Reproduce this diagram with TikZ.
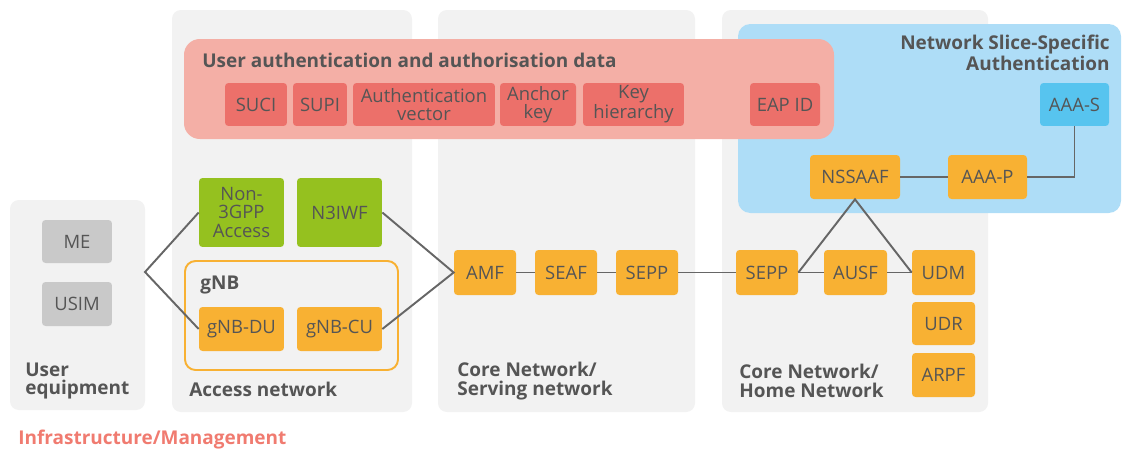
\documentclass[tikz,border=0pt]{standalone}
\usepackage{fontspec}
\setmainfont{Open Sans}
\usepackage{tikz}
\usetikzlibrary{positioning, fit, calc}
\definecolor{panelgray}{HTML}{F2F2F2}
\definecolor{authpink}{HTML}{F4AFA6}
\definecolor{datared}{HTML}{EC706A}
\definecolor{nssablue}{HTML}{AEDDF7}
\definecolor{aaablue}{HTML}{57C4EF}
\definecolor{nforange}{HTML}{F8B133}
\definecolor{accgreen}{HTML}{95C11F}
\definecolor{uegray}{HTML}{C9C9C9}
\definecolor{txtgray}{HTML}{555555}
\definecolor{linegray}{HTML}{666666}
\definecolor{infrared}{HTML}{F07B70}
\newcommand{\nffont}{\fontsize{10.5}{10.3}\selectfont}

\begin{document}
\begin{tikzpicture}[x=0.02cm, y=-0.02cm,
    panel/.style={fill=panelgray, rounded corners=5pt, inner sep=0pt},
    nf/.style={rectangle, rounded corners=2pt, fill=nforange, text=txtgray,
               minimum width=1.24cm, minimum height=0.88cm, align=center,
               inner sep=1pt, font=\nffont},
    datum/.style={nf, fill=datared, minimum height=0.86cm},
    title/.style={font=\bfseries\fontsize{10.8}{10.4}\selectfont, text=txtgray,
                  align=left, inner sep=0pt},
    link/.style={draw=linegray, line width=1.1pt}
]
\useasboundingbox (0,0) rectangle (1122,450);

% domains
\node[panel, fit={(10,200) (145,410)}] (uepanel) {};
\node[panel, fit={(172,10) (412,412)}] (anpanel) {};
\node[panel, fit={(438,10) (695,412)}] (snpanel) {};
\node[panel, fit={(722,10) (988,412)}] (hnpanel) {};
\node[fill=nssablue, rounded corners=7pt, inner sep=0pt, fit={(738,24) (1121,213)}] (nssa) {};
\node[fill=authpink, rounded corners=9pt, inner sep=0pt, fit={(184,39) (834,139)}] (authdata) {};
\node[draw=nforange, line width=1.1pt, rounded corners=6pt, inner sep=0pt, fit={(185,261) (398,370)}] (gnb) {};

\node[title, anchor=west] (authtitle) at (202,60) {User authentication and authorisation data};
\node[title, anchor=east, align=right] (nssatitle) at (1110,53) {Network Slice-Specific\\Authentication};
\node[title, anchor=west] (gnblabel) at (200,285) {gNB};

% authentication data
\node[datum] (suci) at (256,104.5) {SUCI};
\node[datum, minimum width=1.08cm] (supi) at (320,104.5) {SUPI};
\node[datum, minimum width=2.84cm] (authvec) at (424,104.5) {Authentication\\vector};
\node[datum, minimum width=1.52cm] (anchorkey) at (538,104.5) {Anchor\\key};
\node[datum, minimum width=2.02cm] (keyhier) at (633.5,104.5) {Key\\hierarchy};
\node[datum, minimum width=1.4cm] (eapid) at (785,104.5) {EAP ID};

% slice-specific authentication
\node[nf, fill=aaablue, minimum width=1.38cm, minimum height=0.86cm] (aaas) at (1074.5,104.5) {AAA-S};
\node[nf, minimum width=1.8cm] (nssaaf) at (855,177) {NSSAAF};
\node[nf, minimum width=1.58cm] (aaap) at (987.5,177) {AAA-P};

% user equipment
\node[nf, fill=uegray, minimum width=1.4cm, minimum height=0.86cm] (me) at (77,241.5) {ME};
\node[nf, fill=uegray, minimum width=1.4cm] (usim) at (77,304) {USIM};

% access network
\node[nf, fill=accgreen, minimum width=1.7cm, minimum height=1.38cm] (non3gpp) at (241.5,212.5) {Non-\\3GPP\\Access};
\node[nf, fill=accgreen, minimum width=1.7cm, minimum height=1.38cm] (n3iwf) at (339.5,212.5) {N3IWF};
\node[nf, minimum width=1.7cm] (gnbdu) at (241.5,329) {gNB-DU};
\node[nf, minimum width=1.7cm] (gnbcu) at (339.5,329) {gNB-CU};

% serving network
\node[nf, minimum height=0.9cm] (amf) at (485,272.5) {AMF};
\node[nf, minimum height=0.9cm] (seaf) at (566,272.5) {SEAF};
\node[nf, minimum height=0.9cm] (sepps) at (647,272.5) {SEPP};

% home network
\node[nf, minimum height=0.9cm] (sepph) at (767,272.5) {SEPP};
\node[nf, minimum width=1.26cm, minimum height=0.9cm] (ausf) at (855.5,272.5) {AUSF};
\node[nf, minimum width=1.26cm, minimum height=0.9cm] (udm) at (943.5,272.5) {UDM};
\node[nf, minimum width=1.26cm, minimum height=0.86cm] (udr) at (943.5,323.5) {UDR};
\node[nf, minimum width=1.26cm] (arpf) at (943.5,375) {ARPF};

% domain labels
\node[title, anchor=west] (uelabel) at (25,381) {User\\equipment};
\node[title, anchor=west] (anlabel) at (189,389) {Access network};
\node[title, anchor=west] (snlabel) at (457,381) {Core Network/\\Serving network};
\node[title, anchor=west] (hnlabel) at (739,381) {Core Network/\\Home Network};
\node[title, anchor=west, text=infrared] (infralabel) at (18,440) {Infrastructure/Management};

% links
\coordinate (uefork) at (145,272);
\draw[link] (non3gpp.west) -- (uefork) -- (gnbdu.west);
\draw[link] (n3iwf.east) -- (amf.west) -- (gnbcu.east);
\draw[link] (amf) -- (seaf) -- (sepps) -- (sepph) -- (ausf) -- (udm);
\draw[link] (sepph.east) -- (nssaaf.south) -- (udm.west);
\draw[link] (nssaaf) -- (aaap);
\draw[link] (aaap.east) -| (aaas.south);
\end{tikzpicture}
\end{document}
